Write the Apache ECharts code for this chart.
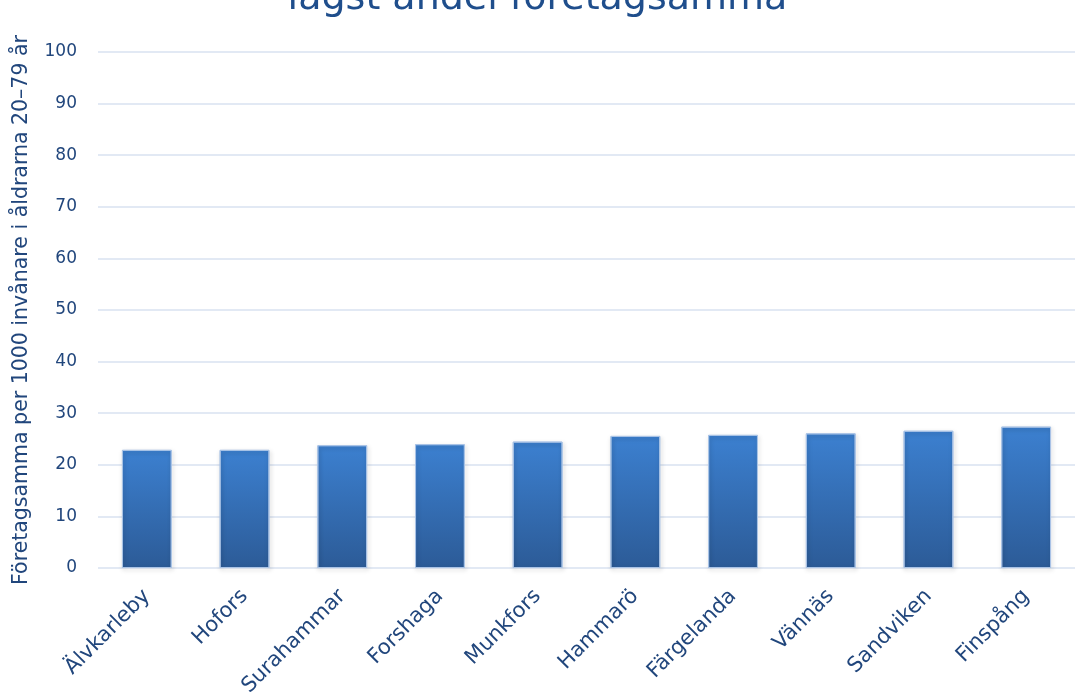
<!DOCTYPE html>
<html>
<head>
<meta charset="utf-8">
<script src="https://cdn.jsdelivr.net/npm/echarts@6/dist/echarts.min.js"></script>
<style>
	html, body { margin: 0; padding: 0; background: #fff; }
	#chart { width: 1075px; height: 700px; }
</style>
</head>
<body>
<div id="chart"></div>
<script>
var kommuner = ['Älvkarleby', 'Hofors', 'Surahammar', 'Forshaga', 'Munkfors', 'Hammarö', 'Färgelanda', 'Vännäs', 'Sandviken', 'Finspång'];
var foretagsamma = [22.9, 22.9, 23.8, 24.0, 24.5, 25.6, 25.8, 26.1, 26.6, 27.4];
var yTicks = [0, 10, 20, 30, 40, 50, 60, 70, 80, 90, 100];

var textColor = '#21467c';
var fontName = '"DejaVu Sans", sans-serif';

var myChart = echarts.init(document.getElementById('chart'));
var option = {
	backgroundColor: '#fff',
	title: {
		text: 'lägst andel företagsamma',
		left: 'center',
		top: -25,
		textStyle: {
			color: '#1f4e8c',
			fontSize: 38,
			fontWeight: 'normal',
			fontFamily: fontName
		}
	},
	grid: {
		left: 98,
		right: -11,
		top: 52,
		bottom: 132
	},
	xAxis: {
		type: 'category',
		data: kommuner,
		axisLine: { show: false },
		axisTick: { show: false },
		axisLabel: {
			rotate: 45,
			margin: 25,
			color: textColor,
			fontSize: 21,
			fontFamily: fontName
		}
	},
	yAxis: {
		type: 'value',
		min: 0,
		max: 100,
		interval: 10,
		name: 'Företagsamma per 1000 invånare i åldrarna 20–79 år',
		nameLocation: 'middle',
		nameRotate: 90,
		nameGap: 66,
		nameTextStyle: {
			color: textColor,
			fontSize: 20.5,
			fontFamily: fontName
		},
		axisLine: { show: false },
		axisTick: { show: false },
		axisLabel: {
			margin: 21,
			color: textColor,
			fontSize: 17,
			fontFamily: fontName,
			formatter: function (v) {
				return yTicks.indexOf(v) >= 0 ? String(v) : '';
			}
		},
		splitLine: {
			lineStyle: { color: '#d8e2f0', width: 1.5 }
		}
	},
	series: [{
		type: 'bar',
		data: foretagsamma,
		barWidth: '51%',
		itemStyle: {
			color: new echarts.graphic.LinearGradient(0, 0, 0, 1, [
				{ offset: 0, color: '#3c80d0' },
				{ offset: 1, color: '#2c5b97' }
			]),
			borderColor: '#a9c3e6',
			borderWidth: 1,
			shadowBlur: 4,
			shadowOffsetX: 1,
			shadowOffsetY: 2,
			shadowColor: 'rgba(0, 0, 0, 0.25)'
		}
	}]
};
myChart.setOption(option);
window.addEventListener('resize', function () {
	myChart.resize();
});
</script>
</body>
</html>
